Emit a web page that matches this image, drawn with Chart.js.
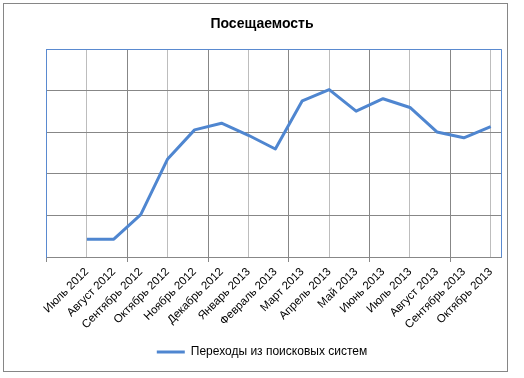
<!DOCTYPE html>
<html>
<head>
<meta charset="utf-8">
<script src="https://cdn.jsdelivr.net/npm/chart.js@4/dist/chart.umd.min.js"></script>
<style>
  html, body { margin: 0; padding: 0; background: #fff; }
  #c { display: block; }
</style>
</head>
<body>
<canvas id="c" width="524" height="378"></canvas>
<script>
// ---- data ----
const categories = ['Июль 2012', 'Август 2012', 'Сентябрь 2012', 'Октябрь 2012', 'Ноябрь 2012', 'Декабрь 2012',
  'Январь 2013', 'Февраль 2013', 'Март 2013', 'Апрель 2013', 'Май 2013', 'Июнь 2013', 'Июль 2013',
  'Август 2013', 'Сентябрь 2013', 'Октябрь 2013'];
const seriesName = 'Переходы из поисковых систем';
const visits = [215, 215, 510, 1180, 1530, 1610, 1465, 1300, 1880, 2015, 1755, 1905, 1800, 1505, 1435, 1570];
const yMin = 0, yMax = 2500, yStep = 500;
const majorTicks = [-1.5, 1.5, 4.5, 7.5, 10.5, 13.5];   // category positions of major tick marks
const minorGrid = [0, 3, 6, 9, 12, 15];                 // lighter gridlines

const LINE = '#4F86D0';
const BORDER_BLUE = '#5A8AD0';
const GRID_DARK = '#878787';
const GRID_LIGHT = '#BDBDBD';

const tickValues = [...new Set([...categories.map((_, i) => i), ...majorTicks])].sort((a, b) => a - b);

const framePlugin = {
  id: 'frame',
  beforeDraw(chart) {
    const ctx = chart.ctx;
    ctx.save();
    ctx.fillStyle = '#fff';
    ctx.fillRect(0, 0, chart.width, chart.height);
    ctx.strokeStyle = '#868686';
    ctx.lineWidth = 1;
    ctx.strokeRect(3.5, 3.5, 504, 368);
    ctx.restore();
  },
  beforeDatasetsDraw(chart) {
    const { ctx, chartArea: a } = chart;
    ctx.save();
    ctx.strokeStyle = BORDER_BLUE;
    ctx.lineWidth = 1;
    ctx.beginPath();
    const l = Math.round(a.left - 0.5) + 0.5, r = Math.round(a.right - 0.5) + 0.5, t = Math.round(a.top - 0.5) + 0.5;
    ctx.moveTo(l, t); ctx.lineTo(r, t); ctx.lineTo(r, Math.round(a.bottom - 0.5) + 0.5);
    ctx.stroke();
    ctx.restore();
  }
};

new Chart(document.getElementById('c'), {
  type: 'line',
  data: {
    datasets: [{
      label: seriesName,
      data: visits.map((v, i) => ({ x: i, y: v })),
      borderColor: LINE,
      backgroundColor: LINE,
      borderWidth: 3,
      borderJoinStyle: 'round',
      pointRadius: 0,
      tension: 0,
      fill: false
    }]
  },
  options: {
    responsive: false,
    animation: false,
    devicePixelRatio: 1,
    layout: { padding: { left: 0, right: 0, top: 0, bottom: 10 } },
    plugins: {
      title: {
        display: true,
        text: 'Посещаемость',
        color: '#000',
        font: { family: 'Liberation Sans', size: 14, weight: 'bold', lineHeight: 1.2 },
        padding: { top: 15.6, bottom: 16.9 }
      },
      legend: {
        position: 'bottom',
        labels: {
          color: '#000',
          font: { family: 'Liberation Sans', size: 12 },
          boxWidth: 28,
          boxHeight: 3,
          padding: 8,
          generateLabels: (chart) => Chart.defaults.plugins.legend.labels.generateLabels(chart)
            .map(l => Object.assign(l, { lineWidth: 0 }))
        }
      },
      tooltip: { enabled: false }
    },
    scales: {
      x: {
        type: 'linear',
        min: -1.5,
        max: 15.4,
        afterBuildTicks: (s) => { s.ticks = tickValues.map(v => ({ value: v })); },
        afterFit: (s) => { s.height = 81; },
        ticks: {
          autoSkip: false,
          minRotation: 45,
          maxRotation: 45,
          padding: 3,
          color: '#000',
          font: { family: 'Liberation Sans', size: 11.5 },
          callback: (v) => (Number.isInteger(v) && v >= 0 && v < categories.length) ? categories[v] : ''
        },
        grid: {
          tickLength: 5,
          color: (c) => {
            const v = c.tick ? c.tick.value : null;
            if (minorGrid.includes(v)) return GRID_LIGHT;
            if (majorTicks.includes(v) && v !== -1.5) return GRID_DARK;
            return 'rgba(0,0,0,0)';
          },
          tickColor: (c) => {
            const v = c.tick ? c.tick.value : null;
            return majorTicks.includes(v) ? GRID_DARK : 'rgba(0,0,0,0)';
          }
        },
        border: { display: true, color: GRID_DARK }
      },
      y: {
        min: yMin,
        max: yMax,
        afterFit: (s) => { s.width = 46.5; },
        ticks: { display: false, stepSize: yStep },
        grid: { color: GRID_DARK, drawTicks: false },
        border: { display: true, color: BORDER_BLUE }
      },
      yr: {
        position: 'right',
        min: 0,
        max: 1,
        afterFit: (s) => { s.width = 22.5; },
        ticks: { display: false },
        grid: { display: false, drawTicks: false },
        border: { display: false }
      }
    }
  },
  plugins: [framePlugin]
});
</script>
</body>
</html>
